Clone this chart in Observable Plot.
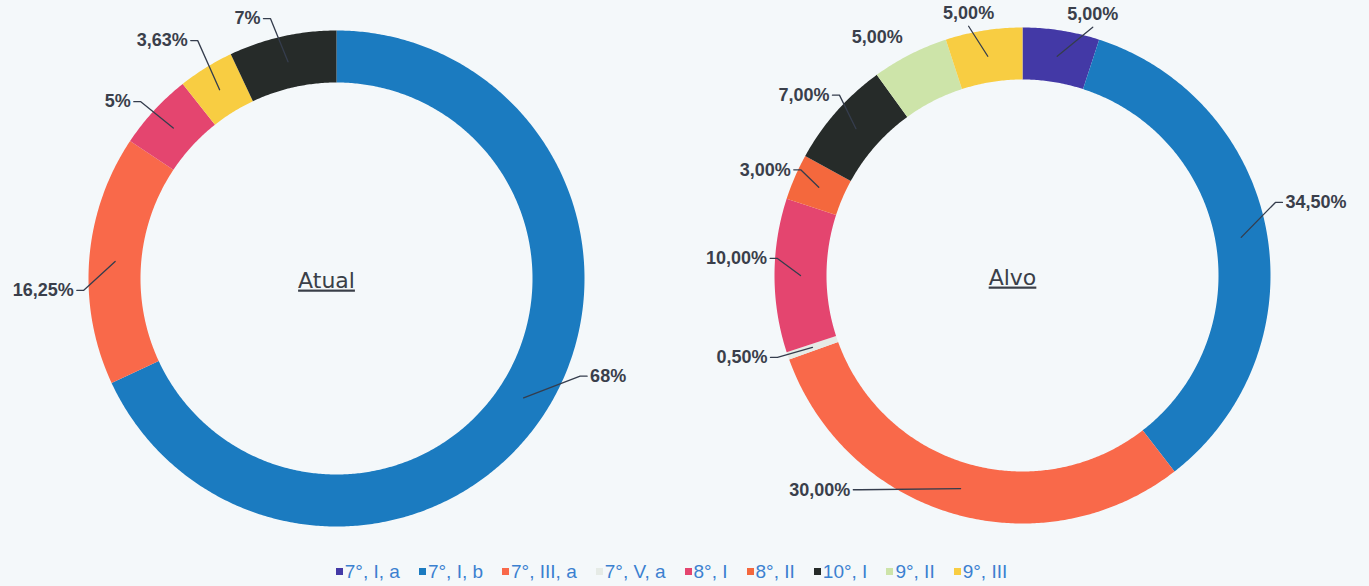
<!DOCTYPE html>
<html>
<head>
<meta charset="utf-8">
<script src="https://cdn.jsdelivr.net/npm/d3@7"></script>
<script src="https://cdn.jsdelivr.net/npm/@observablehq/plot@0.6"></script>
<style>
  html, body { margin: 0; padding: 0; background: #f4f8fa; }
  #chart { width: 1369px; }
  #legend { width: 1362px; padding-right: 7px; }
  #legend > div { justify-content: center !important; margin: 0 !important; min-height: 33px !important; font-family: "Liberation Sans", Arial, sans-serif !important; font-size: 19px !important; color: #3b80d0 !important; }
  #legend span { margin-right: 19px !important; font-size: 19px !important; color: #3b80d0 !important; }
  #legend svg { margin-right: 2px !important; }
</style>
</head>
<body>
<div id="chart"></div>
<div id="legend"></div>
<script>
// ---- data ----
const categories = ["7°, I, a", "7°, I, b", "7°, III, a", "7°, V, a", "8°, I", "8°, II", "10°, I", "9°, II", "9°, III"];
const colors = ["#4339a6", "#1b7bc0", "#f9694a", "#e6ebe6", "#e4456f", "#f4683d", "#262b29", "#cde4a9", "#f8cd42"];

const atualCategories = ["7°, I, b", "7°, III, a", "8°, I", "9°, III", "10°, I"];
const atualValues = [68, 16.25, 5, 3.63, 7];
const atualLabels = ["68%", "16,25%", "5%", "3,63%", "7%"];

const alvoCategories = ["7°, I, a", "7°, I, b", "7°, III, a", "7°, V, a", "8°, I", "8°, II", "10°, I", "9°, II", "9°, III"];
const alvoValues = [5, 34.5, 30, 0.5, 10, 3, 7, 5, 5];
const alvoLabels = ["5,00%", "34,50%", "30,00%", "0,50%", "10,00%", "3,00%", "7,00%", "5,00%", "5,00%"];

// ---- layout (label placement, polar: degrees clockwise from top, px from centre) ----
const W = 1369, H = 555, R_OUT = 248, R_IN = 196, R_LEAD = 222;
const panels = [
  {title: "Atual", cats: atualCategories, values: atualValues, labels: atualLabels, cx: 336, cy: 278,
   labelAngle: [111.3, 267.4, 311.1, 328.5, 344.3],
   labelRadius: [269, 260, 269, 279, 270],
   labelSide: ["right", "left", "left", "left", "left"],
   leader: [true, true, true, true, true]},
  {title: "Alvo", cats: alvoCategories, values: alvoValues, labels: alvoLabels, cx: 1022, cy: 275,
   labelAngle: [15.8, 74.3, 218.3, 252, 273.9, 294.8, 313.5, 327.2, 347.8],
   labelRadius: [258, 270, 273, 265, 253, 252, 262, 268, 255],
   labelSide: ["top", "right", "left", "left", "left", "left", "left", "top", "top"],
   leader: [true, true, true, true, true, true, true, false, true]}
];

const pt = (cx, cy, deg, r) => {
  const a = deg * Math.PI / 180;
  return [cx + r * Math.sin(a), cy - r * Math.cos(a)];
};

const sliceRows = [], leadRows = [], textRows = [], titleRows = [];
panels.forEach(p => {
  const total = d3.sum(p.values);
  let acc = 0;
  p.values.forEach((v, i) => {
    const a0 = acc / total * 360, a1 = (acc + v) / total * 360;
    acc += v;
    const key = p.title + "-" + i;
    const n = Math.max(2, Math.ceil((a1 - a0) / 0.5));
    for (let k = 0; k <= n; k++) {
      const [x, y] = pt(p.cx, p.cy, a0 + (a1 - a0) * k / n, R_OUT);
      sliceRows.push({x, y, key, cat: p.cats[i]});
    }
    for (let k = n; k >= 0; k--) {
      const [x, y] = pt(p.cx, p.cy, a0 + (a1 - a0) * k / n, R_IN);
      sliceRows.push({x, y, key, cat: p.cats[i]});
    }
    const mid = (a0 + a1) / 2;
    const [px, py] = pt(p.cx, p.cy, mid, R_LEAD);
    const [ax, ay] = pt(p.cx, p.cy, p.labelAngle[i], p.labelRadius[i]);
    const side = p.labelSide[i];
    if (p.leader[i]) {
      leadRows.push({x: ax, y: ay, key});
      if (side === "left") leadRows.push({x: ax + 7, y: ay, key});
      if (side === "right") leadRows.push({x: ax - 7, y: ay, key});
      leadRows.push({x: px, y: py, key});
    }
    textRows.push({
      x: side === "left" ? ax - 3 : side === "right" ? ax + 3 : ax,
      y: side === "top" ? ay - 13 : ay,
      text: p.labels[i], side
    });
  });
  titleRows.push({x: p.cx - 10, y: p.cy + 2, text: p.title});
});

const labelFont = {fontFamily: "Liberation Sans, Arial, sans-serif", fontWeight: "bold", fontSize: 18, fill: "#3a3f4b"};

const chart = Plot.plot({
  width: W, height: H,
  marginTop: 0, marginRight: 0, marginBottom: 0, marginLeft: 0,
  style: {background: "#f4f8fa"},
  x: {domain: [0, W], range: [0, W], axis: null},
  y: {domain: [0, H], range: [0, H], axis: null},
  color: {type: "ordinal", domain: categories, range: colors},
  marks: [
    Plot.line(sliceRows, {x: "x", y: "y", z: "key", fill: "cat", stroke: "none", curve: "linear"}),
    Plot.line(leadRows, {x: "x", y: "y", z: "key", stroke: "#353d4d", strokeWidth: 1.3, curve: "linear"}),
    Plot.text(textRows.filter(d => d.side === "left"), {x: "x", y: "y", text: "text", textAnchor: "end", ...labelFont}),
    Plot.text(textRows.filter(d => d.side === "right"), {x: "x", y: "y", text: "text", textAnchor: "start", ...labelFont}),
    Plot.text(textRows.filter(d => d.side === "top"), {x: "x", y: "y", text: "text", textAnchor: "middle", ...labelFont}),
    Plot.text(titleRows, {x: "x", y: "y", text: "text", textAnchor: "middle", fontFamily: "DejaVu Sans, sans-serif", fontSize: 22, fill: "#3a3f48"})
  ]
});
d3.select(chart).selectAll("text")
  .filter(function() { return this.textContent === "Atual" || this.textContent === "Alvo"; })
  .style("text-decoration", "underline");
document.getElementById("chart").appendChild(chart);

const legend = Plot.legend({
  color: {type: "ordinal", domain: categories, range: colors},
  swatchSize: 7,
  style: {fontFamily: "Liberation Sans, Arial, sans-serif", fontSize: "19px", color: "#3b80d0"}
});
document.getElementById("legend").appendChild(legend);
</script>
</body>
</html>
